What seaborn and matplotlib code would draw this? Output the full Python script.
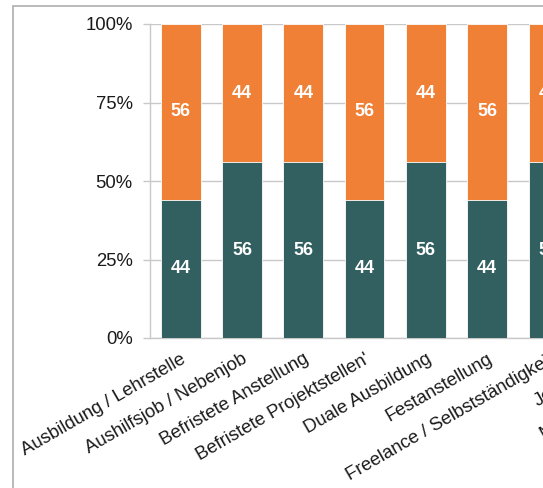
import matplotlib
matplotlib.use("Agg")
import matplotlib.pyplot as plt
import seaborn as sns
import pandas as pd
from matplotlib.patches import Rectangle

categories = [
    "Ausbildung / Lehrstelle",
    "Aushilfsjob / Nebenjob",
    "Befristete Anstellung",
    "Befristete Projektstellen'",
    "Duale Ausbildung",
    "Festanstellung",
    "Freelance / Selbstständigkeit",
    "Jobsharing",
    "Minijob / Teilzeitjob",
]
dark_values = [44, 56, 56, 44, 56, 44, 56, 44, 56]
orange_values = [56, 44, 44, 56, 44, 56, 44, 56, 44]
y_ticks = [0, 25, 50, 75, 100]
y_tick_labels = ["0%", "25%", "50%", "75%", "100%"]

DARK = "#325f60"
ORANGE = "#f08036"

df = pd.DataFrame({
    "cat": categories,
    "dark": dark_values,
    "orange": orange_values,
})
df["total"] = df["dark"] + df["orange"]

sns.set_theme(style="white")
plt.rcParams["font.family"] = ["Liberation Sans", "DejaVu Sans"]

W, H = 543, 488
fig = plt.figure(figsize=(W / 100, H / 100), dpi=100)

# outer frame of the chart container (cropped on right/bottom)
fig.patches.append(Rectangle((13 / W, -0.1), 1.2, 1 - 6 / H + 0.1,
                             transform=fig.transFigure, fill=False,
                             edgecolor="#b4b4b4", linewidth=1.3))

left = 150 / W
bottom = (H - 338) / H
height = (338 - 24) / H
width = (61.3 * len(categories)) / W
ax = fig.add_axes([left, bottom, width, height])

sns.barplot(data=df, x="cat", y="total", color=ORANGE, width=0.65,
            edgecolor="white", linewidth=0.6, saturation=1, ax=ax, zorder=3)
sns.barplot(data=df, x="cat", y="dark", color=DARK, width=0.65,
            edgecolor="white", linewidth=0.6, saturation=1, ax=ax, zorder=3)

for i, (d, o) in enumerate(zip(dark_values, orange_values)):
    ax.text(i, d / 2, f"{d}", ha="center", va="center", color="white",
            fontsize=13, fontweight="bold", zorder=5)
    ax.text(i, d + o / 2, f"{o}", ha="center", va="center", color="white",
            fontsize=13, fontweight="bold", zorder=5)

ax.set_ylim(0, 100)
ax.set_xlim(-0.5, len(categories) - 0.5)
ax.set_yticks(y_ticks)
ax.set_yticklabels(y_tick_labels, fontsize=13.3, color="#1a1a1a")
ax.yaxis.grid(True, color="#c8c8c8", linewidth=1, zorder=0)
ax.set_axisbelow(True)
ax.set_xlabel("")
ax.set_ylabel("")
ax.set_xticks(range(len(categories)))
ax.set_xticklabels(categories, rotation=30, ha="right",
                   rotation_mode="anchor", fontsize=13.3, color="#1a1a1a")
ax.tick_params(axis="x", length=0, pad=9)
ax.tick_params(axis="y", length=5, width=1, color="#c8c8c8", pad=7.5, left=True)
for s in ["top", "right"]:
    ax.spines[s].set_visible(False)
ax.spines["left"].set_color("#c8c8c8")
ax.spines["bottom"].set_color("#c8c8c8")
ax.spines["left"].set_linewidth(1)
ax.spines["bottom"].set_linewidth(1)

fig.savefig("out.png", dpi=100)
